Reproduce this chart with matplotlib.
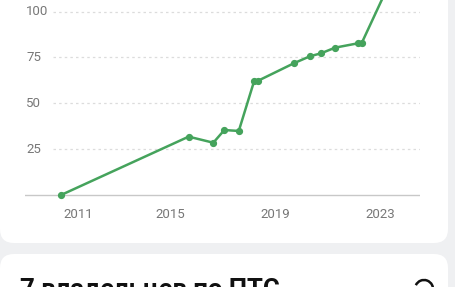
import numpy as np
import matplotlib
matplotlib.use('Agg')
import matplotlib.pyplot as plt
from matplotlib.patches import FancyBboxPatch, Arc

# Data (x = decimal year, y = value)
years = [2010.85, 2015.71, 2016.65, 2017.07, 2017.62, 2018.21, 2018.36,
         2019.72, 2020.33, 2020.75, 2021.29, 2022.17, 2022.30, 2023.46]
values = [0, 31.8, 28.5, 35.4, 34.9, 62.3, 62.3,
          71.8, 75.6, 77.2, 80.3, 82.7, 82.7, 118.4]
y_ticks = [25, 50, 75, 100]
x_tick_pos = [2011.5, 2015, 2019, 2023]
x_tick_labels = ['2011', '2015', '2019', '2023']
card_title = '7 владельцев по ПТС'

plt.rcParams['font.family'] = ['Roboto', 'DejaVu Sans']

W, H = 456, 287
fig = plt.figure(figsize=(W / 100, H / 100), dpi=100)
fig.patch.set_facecolor('#eff0f2')

# background layer in pixel coordinates: the two white cards
bg = fig.add_axes([0, 0, 1, 1], zorder=-1)
bg.set_xlim(0, W)
bg.set_ylim(H, 0)
bg.axis('off')
bg.add_patch(FancyBboxPatch((0, -40), 448, 283, boxstyle='round,pad=0,rounding_size=14',
                            facecolor='white', edgecolor='none'))
bg.add_patch(FancyBboxPatch((0, 254), 448, 80, boxstyle='round,pad=0,rounding_size=14',
                            facecolor='white', edgecolor='none'))
bg.text(20, 278, card_title, fontsize=18.5, fontweight='bold', color='#111111',
        ha='left', va='top')
bg.add_patch(Arc((424, 289), 18, 18, theta1=205, theta2=15, color='#111111', lw=1.8))

# chart axes: x pixels 25..420, y pixel = 195 - 1.835 * value
px_per_year = 26.25
x0_year = 2019 - (275 - 25) / px_per_year
x1_year = 2019 + (420 - 275) / px_per_year
ylo, yhi = -5, 130
top_px = 195 - 1.835 * yhi
bot_px = 195 - 1.835 * ylo
ax = fig.add_axes([25 / W, 1 - bot_px / H, 395 / W, (bot_px - top_px) / H])
ax.patch.set_visible(False)
ax.set_xlim(x0_year, x1_year)
ax.set_ylim(ylo, yhi)
for s in ax.spines.values():
    s.set_visible(False)

# grid + zero line
for t in y_ticks:
    ax.axhline(t, xmin=0.071, xmax=1, color='#dcdcdc', lw=0.9, ls=(0, (2, 2.5)))
    ax.text(0.003, t, str(t), transform=ax.get_yaxis_transform(), ha='left', va='center',
            fontsize=9.5, color='#777777')
ax.axhline(0, color='#c8c8c8', lw=1)

ax.plot(years, values, color='#45a35c', lw=1.8, marker='o', markersize=4.2, clip_on=False)

ax.set_yticks([])
ax.set_xticks(x_tick_pos)
ax.set_xticklabels(x_tick_labels, fontsize=9.5, color='#777777')
ax.tick_params(axis='x', length=0, pad=3)

fig.savefig('out.png', dpi=100)
